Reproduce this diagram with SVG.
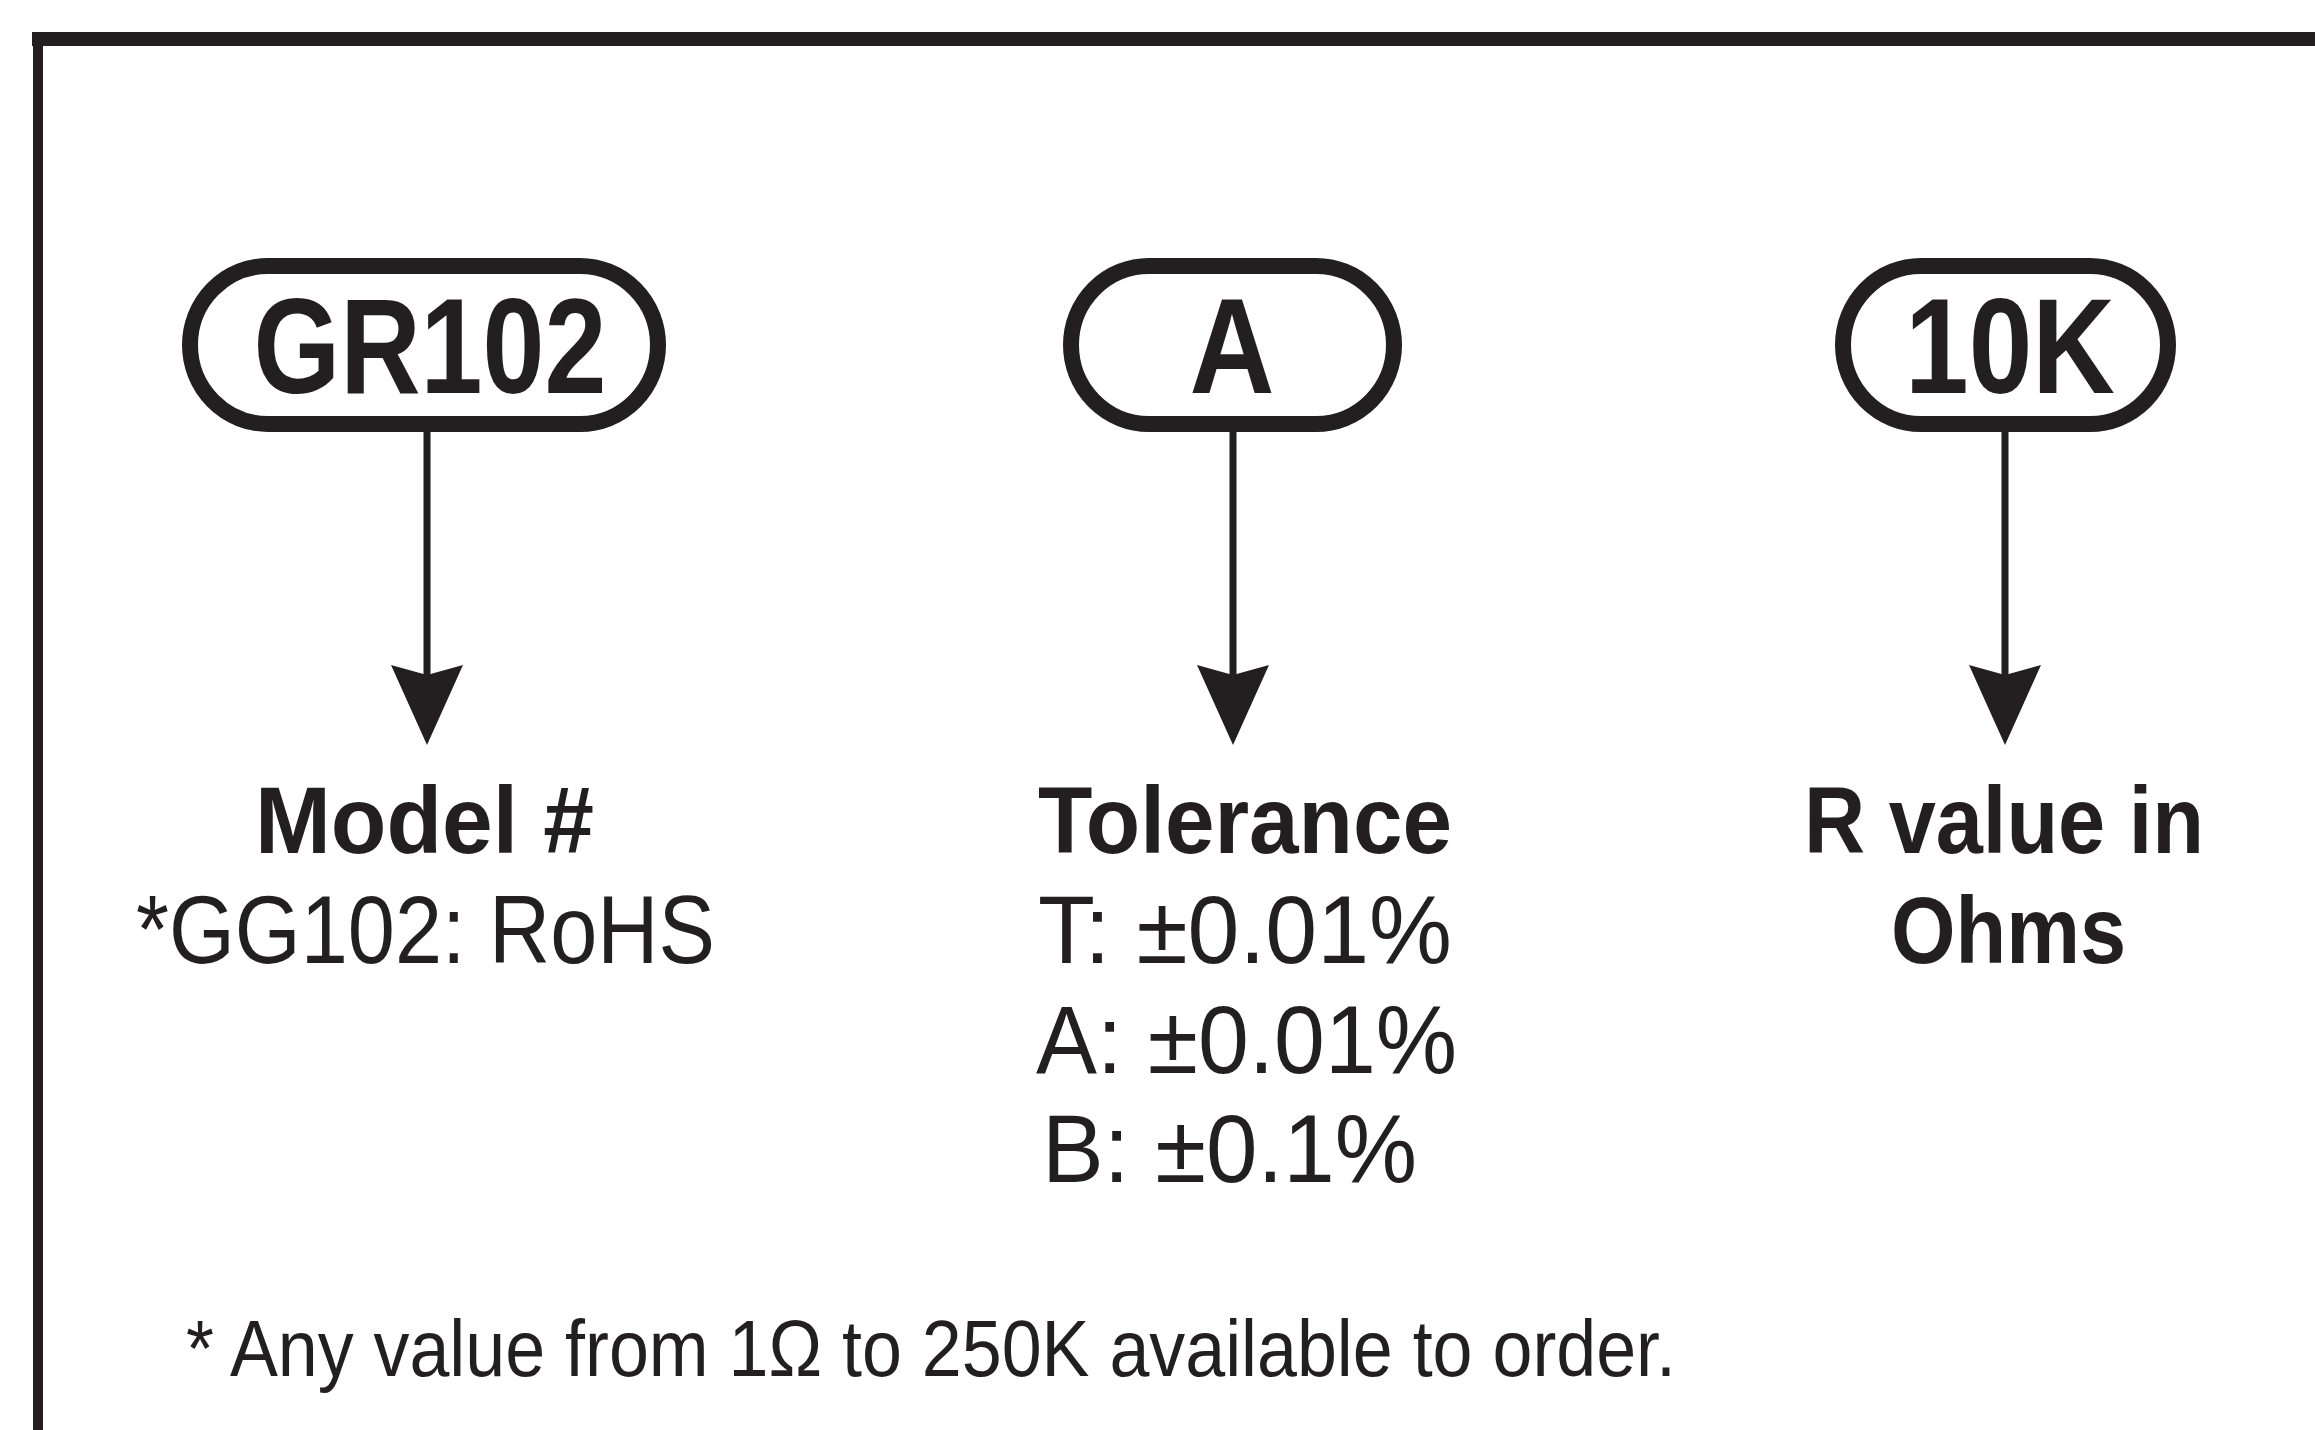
<svg xmlns="http://www.w3.org/2000/svg" width="2315" height="1430" viewBox="0 0 2315 1430">
<style>
.pill{fill:#fff;stroke:#231f20;stroke-width:16}
.code{font-family:"Liberation Sans",Arial,sans-serif;font-weight:bold;font-size:135px;fill:#231f20;text-anchor:middle}
.hd{font-family:"Liberation Sans",Arial,sans-serif;font-weight:bold;font-size:95px;fill:#231f20}
.tx{font-family:"Liberation Sans",Arial,sans-serif;font-size:97px;fill:#231f20}
.fn{font-family:"Liberation Sans",Arial,sans-serif;font-size:80px;fill:#231f20}
.conn{stroke:#231f20;stroke-width:7;fill:none;marker-end:url(#arr)}
.frame{stroke:#231f20;fill:none}
</style>
<defs>
<marker id="arr" viewBox="0 -36 80 72" refX="35" refY="0" markerWidth="80" markerHeight="72" markerUnits="userSpaceOnUse" orient="auto">
<path d="M0,-36 L10,0 L0,36 L80,0 Z" fill="#231f20"/>
</marker>
</defs>
<rect width="2315" height="1430" fill="#fff"/>
<g id="frame">
<line class="frame" x1="32" y1="39" x2="2315" y2="39" stroke-width="14"/>
<line class="frame" x1="38" y1="32" x2="38" y2="1430" stroke-width="10"/>
</g>
<g id="connectors">
<line class="conn" x1="427" y1="432" x2="427" y2="700"/>
<line class="conn" x1="1233" y1="432" x2="1233" y2="700"/>
<line class="conn" x1="2005" y1="432" x2="2005" y2="700"/>
</g>
<g id="node-gr102">
<rect class="pill" x="190" y="266" width="468" height="158" rx="78" ry="79"/>
<text class="code" x="430" y="393" textLength="353" lengthAdjust="spacingAndGlyphs">GR102</text>
</g>
<g id="node-a">
<rect class="pill" x="1071" y="266" width="323" height="158" rx="78" ry="79"/>
<text class="code" x="1232" y="393" textLength="85" lengthAdjust="spacingAndGlyphs">A</text>
</g>
<g id="node-10k">
<rect class="pill" x="1843" y="266" width="325" height="158" rx="78" ry="79"/>
<text class="code" x="2010" y="393" textLength="210" lengthAdjust="spacingAndGlyphs">10K</text>
</g>
<g id="label-model">
<text class="hd" x="255" y="853" textLength="339" lengthAdjust="spacingAndGlyphs">Model #</text>
<text class="tx" x="136" y="963" textLength="579" lengthAdjust="spacingAndGlyphs">*GG102: RoHS</text>
</g>
<g id="label-tolerance">
<text class="hd" x="1038" y="853" textLength="414" lengthAdjust="spacingAndGlyphs">Tolerance</text>
<text class="tx" x="1038" y="963" textLength="414" lengthAdjust="spacingAndGlyphs">T: ±0.01%</text>
<text class="tx" x="1036" y="1073" textLength="421" lengthAdjust="spacingAndGlyphs">A: ±0.01%</text>
<text class="tx" x="1042" y="1182" textLength="375" lengthAdjust="spacingAndGlyphs">B: ±0.1%</text>
</g>
<g id="label-rvalue">
<text class="hd" x="1804" y="853" textLength="400" lengthAdjust="spacingAndGlyphs">R value in</text>
<text class="hd" x="1891" y="963" textLength="235" lengthAdjust="spacingAndGlyphs">Ohms</text>
</g>
<g id="footnote">
<text class="fn" x="186" y="1376" textLength="1490" lengthAdjust="spacingAndGlyphs">* Any value from 1Ω to 250K available to order.</text>
</g>
</svg>
